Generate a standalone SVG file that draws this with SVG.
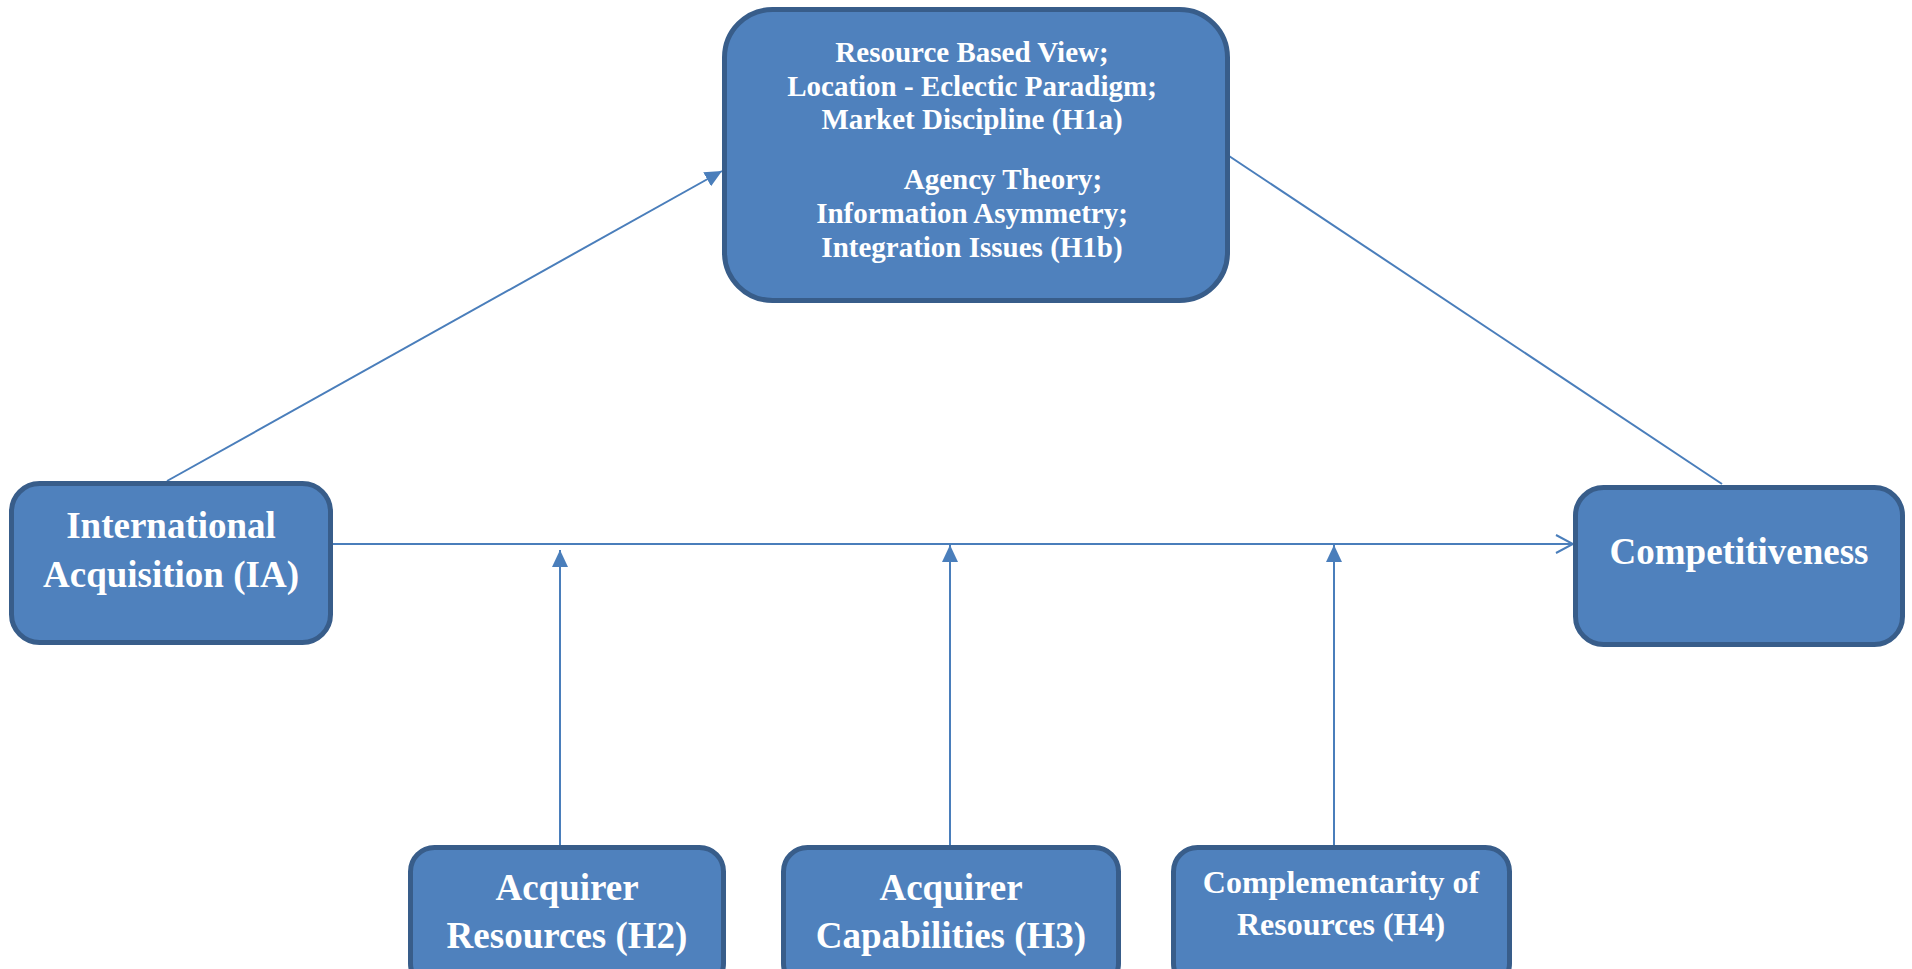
<svg xmlns="http://www.w3.org/2000/svg" width="1912" height="969" viewBox="0 0 1912 969">
<style>
.box{fill:#4f81bd;stroke:#385d8a;stroke-width:5}
.t{fill:#ffffff;font-family:"Liberation Serif","Times New Roman",serif;font-weight:bold;text-anchor:middle}
.c{stroke:#4a7ebb;stroke-width:2;fill:none}
</style>
<defs>
<marker id="tri" markerUnits="userSpaceOnUse" markerWidth="18" markerHeight="16" refX="17" refY="8" orient="auto">
<path d="M0,0 L17,8 L0,16 Z" fill="#4a7ebb"/>
</marker>
<marker id="open" markerUnits="userSpaceOnUse" markerWidth="20" markerHeight="20" refX="18" refY="10" orient="auto">
<path d="M1,1 L18,10 L1,19" fill="none" stroke="#4a7ebb" stroke-width="2"/>
</marker>
</defs>
<rect width="1912" height="969" fill="#ffffff"/>
<g id="connectors">
<line class="c" x1="167" y1="481" x2="722" y2="171" marker-end="url(#tri)"/>
<line class="c" x1="1229" y1="156" x2="1722" y2="484"/>
<line class="c" x1="333" y1="544" x2="1573" y2="544" marker-end="url(#open)"/>
<line class="c" x1="560" y1="845" x2="560" y2="550" marker-end="url(#tri)"/>
<line class="c" x1="950" y1="845" x2="950" y2="545" marker-end="url(#tri)"/>
<line class="c" x1="1334" y1="845" x2="1334" y2="545" marker-end="url(#tri)"/>
</g>
<g id="theories">
<rect class="box" x="724.5" y="9.5" width="503" height="291" rx="48"/>
<text class="t" font-size="29" x="972" y="62">Resource Based View;</text>
<text class="t" font-size="29" x="972" y="96">Location - Eclectic Paradigm;</text>
<text class="t" font-size="29" x="972" y="129">Market Discipline (H1a)</text>
<text class="t" font-size="29" x="1003" y="189">Agency Theory;</text>
<text class="t" font-size="29" x="972" y="223">Information Asymmetry;</text>
<text class="t" font-size="29" x="972" y="257">Integration Issues (H1b)</text>
</g>
<g id="ia">
<rect class="box" x="11.5" y="483.5" width="319" height="159" rx="28"/>
<text class="t" font-size="37" x="171" y="538">International</text>
<text class="t" font-size="37" x="171" y="587">Acquisition (IA)</text>
</g>
<g id="competitiveness">
<rect class="box" x="1575.5" y="487.5" width="327" height="157" rx="28"/>
<text class="t" font-size="37" x="1739" y="564">Competitiveness</text>
</g>
<g id="h2">
<rect class="box" x="410.5" y="847.5" width="313" height="140" rx="24"/>
<text class="t" font-size="37" x="567" y="900">Acquirer</text>
<text class="t" font-size="37" x="567" y="948">Resources (H2)</text>
</g>
<g id="h3">
<rect class="box" x="783.5" y="847.5" width="335" height="140" rx="24"/>
<text class="t" font-size="37" x="951" y="900">Acquirer</text>
<text class="t" font-size="37" x="951" y="948">Capabilities (H3)</text>
</g>
<g id="h4">
<rect class="box" x="1173.5" y="847.5" width="336" height="140" rx="24"/>
<text class="t" font-size="32" x="1341" y="893">Complementarity of</text>
<text class="t" font-size="32" x="1341" y="935">Resources (H4)</text>
</g>
</svg>
